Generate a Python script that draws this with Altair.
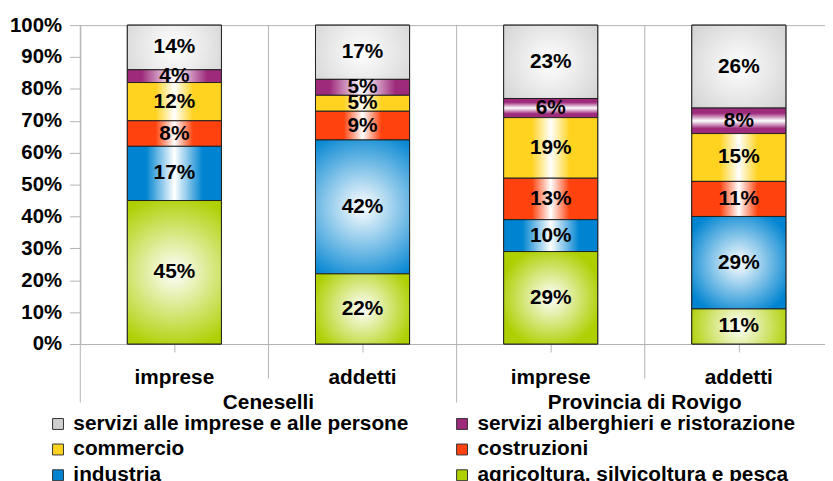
import altair as alt
import pandas as pd

F = "Liberation Sans"

areas = ["Ceneselli", "Ceneselli", "Provincia di Rovigo", "Provincia di Rovigo"]
measures = ["imprese", "addetti", "imprese", "addetti"]
categories = [
    "servizi alle imprese e alle persone",
    "servizi alberghieri e ristorazione",
    "commercio",
    "costruzioni",
    "industria",
    "agricoltura, silvicoltura e pesca",
]
colors = ["#cfcfcf", "#9e2a7c", "#ffd320", "#ff420e", "#0084d1", "#aecf00"]

servizi_imprese = [14, 17, 23, 26]
servizi_alberghieri = [4, 5, 6, 8]
commercio = [12, 5, 19, 15]
costruzioni = [8, 9, 13, 11]
industria = [17, 42, 10, 29]
agricoltura = [45, 22, 29, 11]

series = [servizi_imprese, servizi_alberghieri, commercio, costruzioni, industria, agricoltura]
keys = [a + "|" + m for a, m in zip(areas, measures)]

rows = []
for i in range(len(keys)):
    for k, cat in enumerate(categories):
        rows.append({"key": keys[i], "area": areas[i], "measure": measures[i],
                     "cat": cat, "value": series[k][i], "order": len(categories) - 1 - k})
df = pd.DataFrame(rows)
bars_df = pd.DataFrame({"key": keys, "area": areas, "measure": measures})

GRID = "#b3b3b3"
H = 322
W = 760
FS = 21


def lin_x(c, a=0.3, b=0.7):
    return alt.LinearGradient(gradient="linear", x1=0, x2=1, y1=0, y2=0, stops=[
        alt.GradientStop(color=c, offset=0), alt.GradientStop(color=c, offset=a),
        alt.GradientStop(color="#ffffff", offset=0.5),
        alt.GradientStop(color=c, offset=b), alt.GradientStop(color=c, offset=1)])


def lin_y(c):
    return alt.LinearGradient(gradient="linear", x1=0, x2=0, y1=0, y2=1, stops=[
        alt.GradientStop(color=c, offset=0), alt.GradientStop(color=c, offset=0.2),
        alt.GradientStop(color="#ffffff", offset=0.5),
        alt.GradientStop(color=c, offset=0.8), alt.GradientStop(color=c, offset=1)])


def rad(c, r=0.6):
    return alt.RadialGradient(gradient="radial", x1=0.5, y1=0.5, r1=0, x2=0.5, y2=0.5, r2=r, stops=[
        alt.GradientStop(color="#ffffff", offset=0), alt.GradientStop(color=c, offset=1)])


# gradient style per (category, filter field, filter value)
styles = [
    (categories[0], None, None, rad("#c8c8c8", 0.8)),
    (categories[1], "area", "Ceneselli", lin_x("#9e2a7c", 0.15, 0.85)),
    (categories[1], "area", "Provincia di Rovigo", lin_y("#9e2a7c")),
    (categories[2], None, None, lin_x("#ffd320")),
    (categories[3], None, None, lin_x("#ff420e")),
    (categories[4], "measure", "imprese", lin_x("#0084d1", 0.2, 0.8)),
    (categories[4], "measure", "addetti", rad("#0084d1", 0.6)),
    (categories[5], None, None, rad("#aecf00", 0.55)),
]

x_axis = alt.Axis(labelExpr="split(datum.label, '|')[1]", labelFontSize=FS,
                  labelFontWeight="bold", labelFont=F, labelColor="black",
                  tickSize=8, tickColor=GRID, domainColor=GRID, labelPadding=15,
                  title=None, grid=False, labelAngle=0)
y_axis = alt.Axis(values=[i / 10 for i in range(11)], format=".0%", labelFontSize=20.5,
                  labelFontWeight="bold", labelFont=F, labelColor="black",
                  tickSize=11, tickColor=GRID, labelPadding=8, domain=False,
                  grid=False, title=None)
x_scale = alt.Scale(domain=keys, paddingInner=0, paddingOuter=0)
y_scale = alt.Scale(domain=[0, 1])


def X(**kw):
    return alt.X("key:N", scale=x_scale, axis=x_axis, **kw)


def Y(field):
    return alt.Y(field, scale=y_scale, axis=y_axis)


base = alt.Chart(df).transform_stack(
    stack="value", groupby=["key"], as_=["y0", "y1"], offset="normalize",
    sort=[alt.SortField("order", order="ascending")]
).transform_calculate(mid="(datum.y0 + datum.y1) / 2", label="datum.value + '%'")

bw = alt.RelativeBandSize(band=0.5)

rules_long = alt.Chart(bars_df).transform_filter(alt.datum.measure == "imprese").mark_rule(
    color=GRID, strokeWidth=1).encode(
    x=X(bandPosition=0), y=alt.value(0), y2=alt.value(H + 59))
rules_short = alt.Chart(bars_df).transform_filter(alt.datum.measure == "addetti").mark_rule(
    color=GRID, strokeWidth=1).encode(
    x=X(bandPosition=0), y=alt.value(0), y2=alt.value(H + 35))

solid = base.mark_bar(width=bw, stroke="#222222", strokeWidth=1).encode(
    x=X(), y=Y("y0:Q"), y2="y1:Q",
    color=alt.Color("cat:N", scale=alt.Scale(domain=categories, range=colors),
                    legend=alt.Legend(title=None, orient="none", legendX=-33, legendY=392,
                                      direction="horizontal",
                                      columns=2, columnPadding=43, rowPadding=4,
                                      symbolType="square", symbolSize=121,
                                      symbolStrokeColor="#333333", symbolStrokeWidth=1,
                                      labelFontSize=FS, labelFontWeight="bold", labelFont=F,
                                      labelColor="black", labelLimit=600, labelOffset=5,
                                      padding=0)))

grad_layers = []
for cat, fld, val, g in styles:
    ch = base.transform_filter(alt.datum.cat == cat)
    if fld is not None:
        ch = ch.transform_filter(alt.datum[fld] == val)
    grad_layers.append(ch.mark_bar(width=bw, fill=g, stroke="#222222", strokeWidth=1).encode(
        x=X(), y=Y("y0:Q"), y2="y1:Q"))

labels = base.mark_text(fontSize=FS, fontWeight="bold", font=F, color="black",
                        baseline="middle").encode(
    x=X(), y=Y("mid:Q"), text="label:N")

group_labels = alt.Chart(bars_df).transform_filter(alt.datum.measure == "imprese").mark_text(
    fontSize=FS, fontWeight="bold", font=F, color="black", baseline="top").encode(
    x=X(bandPosition=1), y=alt.value(H + 49), text="area:N")

chart = alt.layer(rules_long, rules_short, solid, *grad_layers, labels, group_labels).properties(
    width=W, height=H,
    autosize=alt.AutoSizeParams(type="none"),
    padding={"left": 73, "top": 15, "right": -8, "bottom": 136},
    title=alt.TitleParams("Anno 2023", anchor="start", frame="bounds", fontSize=26, font=F,
                          fontWeight="bold", color="#a0413a", baseline="alphabetic", offset=-10),
).configure_view(stroke=GRID, strokeWidth=1)

chart.save("out.html", embed_options={"renderer": "svg", "actions": False})
